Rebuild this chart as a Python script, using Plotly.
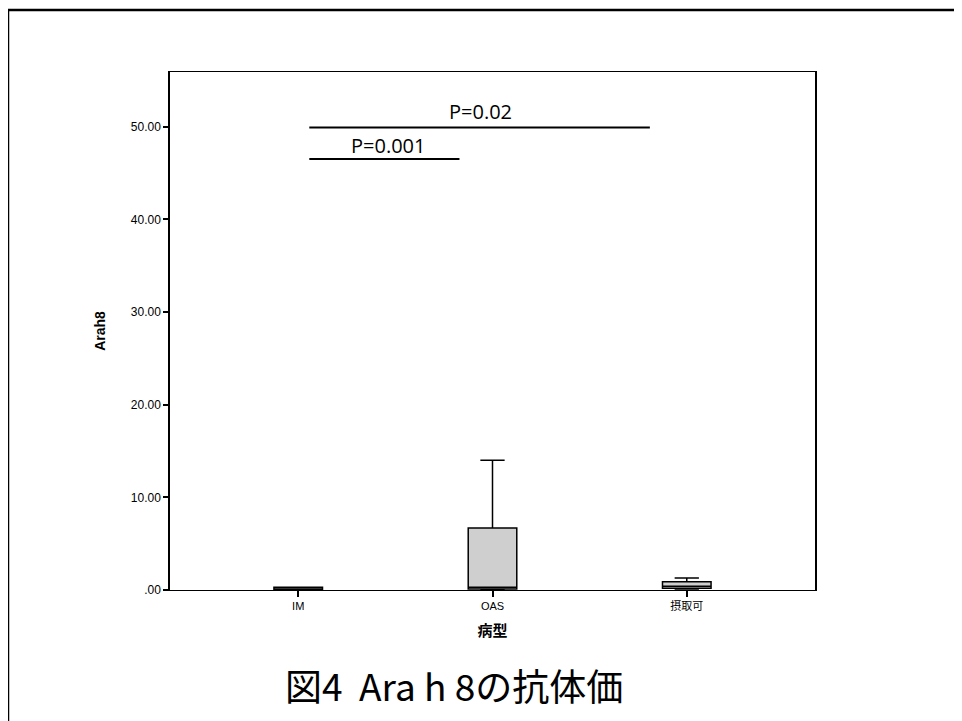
import plotly.graph_objects as go

categories = ["IM", "OAS", "摂取可"]
q1 = [0.0, 0.1, 0.2]
median = [0.1, 0.3, 0.4]
q3 = [0.3, 6.7, 0.9]
lowerfence = [0.0, 0.0, 0.1]
upperfence = [0.3, 14.0, 1.3]

ytick_vals = [0, 10, 20, 30, 40, 50]
ytick_text = [".00", "10.00", "20.00", "30.00", "40.00", "50.00"]

# significance brackets: (x0, x1, y, label, label_x, label_y)
brackets = [
    (0.057, 1.81, 49.9, "P=0.02", 0.94, 51.6),
    (0.057, 0.83, 46.5, "P=0.001", 0.46, 48.0),
]

# page has an 8px body margin; compensate so the plot area lands at 170..815 x 72..590
L, T, PW, PH = 162, 64, 645, 518

fig = go.Figure()
fig.add_trace(go.Box(
    x=categories, q1=q1, median=median, q3=q3,
    lowerfence=lowerfence, upperfence=upperfence,
    width=0.25, whiskerwidth=0.5,
    fillcolor="#cfcfcf",
    line=dict(color="black", width=1.5),
    boxpoints=False, showlegend=False,
))

for x0, x1, y, label, lx, ly in brackets:
    fig.add_shape(type="line", xref="x", yref="y", x0=x0, x1=x1, y0=y, y1=y,
                  line=dict(color="black", width=2))
    fig.add_annotation(x=lx, y=ly, xref="x", yref="y", text=label, showarrow=False,
                       font=dict(family="Open Sans, Liberation Sans", size=20, color="black"),
                       yanchor="middle")

def px(xp):
    return (xp - 170) / PW

def py(yp):
    return (590 - yp) / PH

# outer frame
fig.add_shape(type="rect", xref="paper", yref="paper",
              x0=px(8), x1=px(985), y0=py(740), y1=py(10),
              line=dict(color="black", width=2.5), layer="below")

fig.add_annotation(xref="paper", yref="paper", x=px(454), y=py(685),
                   text="図4\u00a0\u00a0Ara h 8の抗体価", showarrow=False,
                   font=dict(family="Noto Sans CJK JP", size=37, color="black"),
                   xanchor="center", yanchor="middle")

fig.update_layout(
    width=962, height=721,
    margin=dict(l=L, r=962 - L - PW, t=T, b=721 - T - PH),
    paper_bgcolor="white", plot_bgcolor="white",
    xaxis=dict(
        type="category", range=[-0.66, 2.66],
        showline=True, linecolor="black", linewidth=1, mirror=True,
        ticks="outside", ticklen=6, tickcolor="black", tickwidth=1.5,
        tickfont=dict(family="Liberation Sans, Noto Sans CJK JP", size=11, color="black"),
        title=dict(text="<b>病型</b>", font=dict(family="Noto Sans CJK JP", size=15, color="black"), standoff=14),
        showgrid=False, zeroline=False,
    ),
    yaxis=dict(
        range=[0, 55.9],
        tickvals=ytick_vals, ticktext=ytick_text,
        showline=True, linecolor="black", linewidth=1.5, mirror=True,
        ticks="outside", ticklen=5, tickcolor="black", tickwidth=1.5,
        tickfont=dict(family="Liberation Sans", size=12, color="black"),
        title=dict(text="<b>Arah8</b>", font=dict(family="Liberation Sans", size=14, color="black"), standoff=22),
        showgrid=False, zeroline=False,
    ),
)

fig.write_html("out.html")
